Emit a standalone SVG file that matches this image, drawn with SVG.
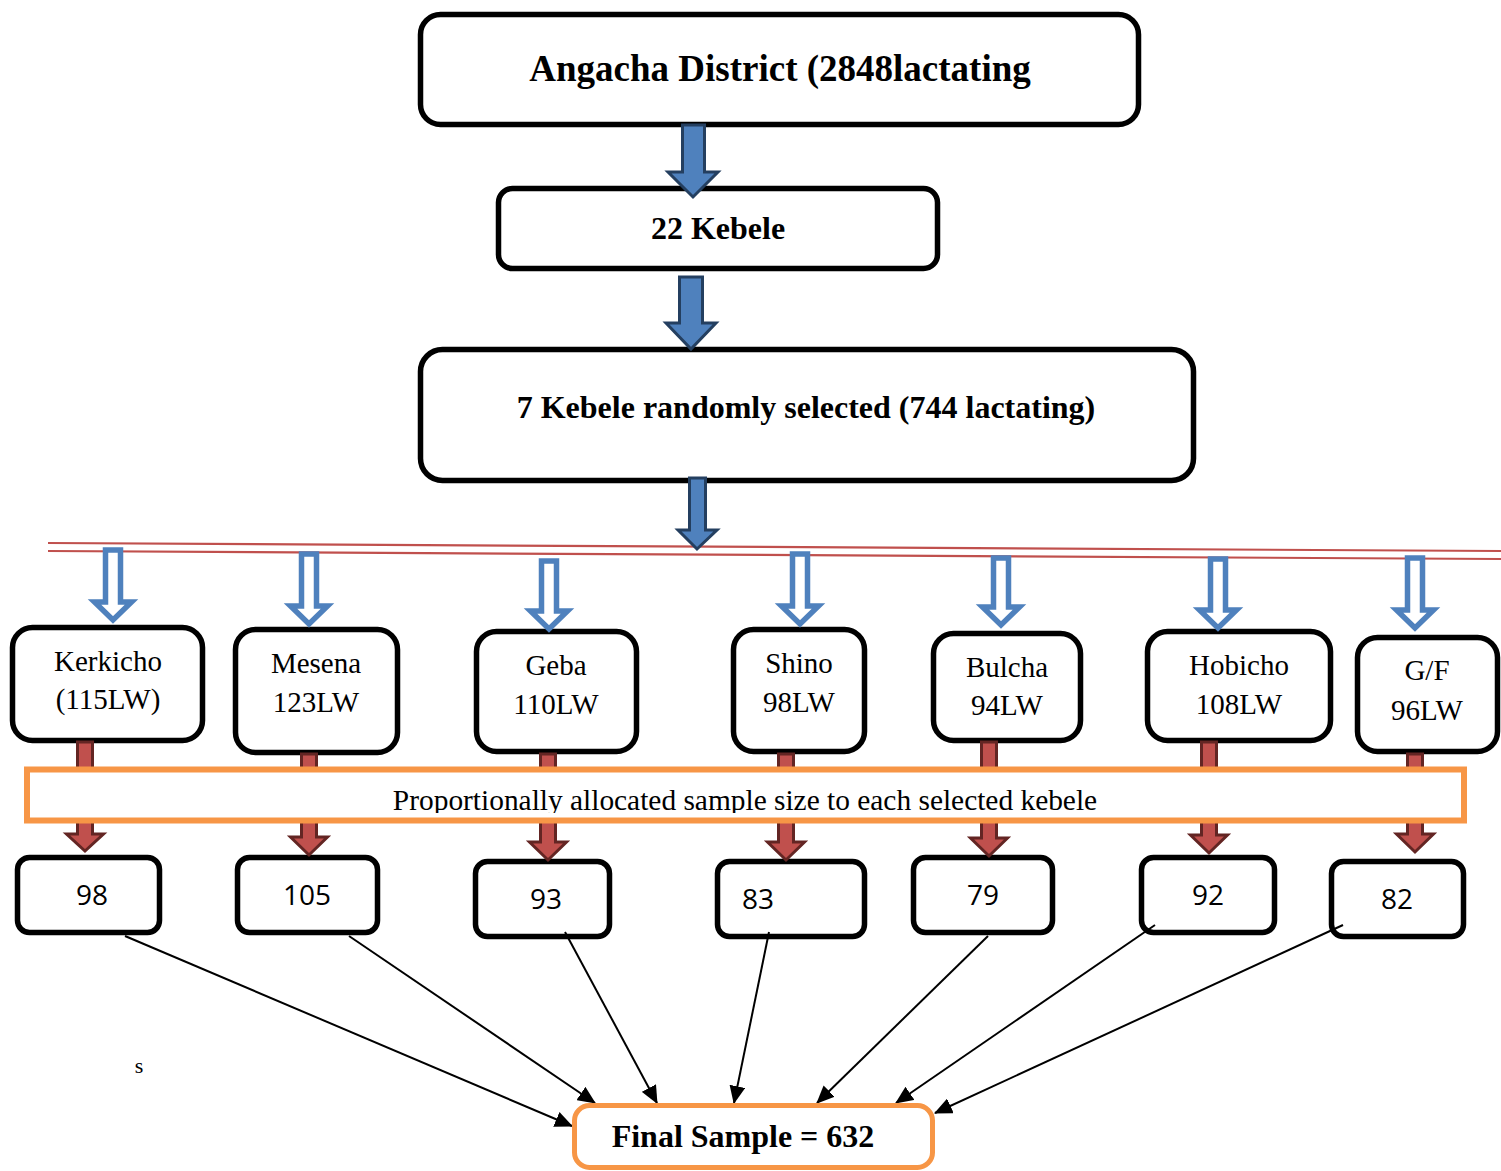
<svg xmlns="http://www.w3.org/2000/svg" width="1501" height="1171" viewBox="0 0 1501 1171">
<style>
.box{fill:#fff;stroke:#000;stroke-width:5.5}
.ttl{font-family:"Liberation Serif",serif;font-weight:bold;fill:#000;text-anchor:middle}
.kt{font-family:"Liberation Serif",serif;font-size:29px;fill:#000;text-anchor:middle}
.num{font-family:"Open Sans","Noto Sans",sans-serif;font-size:28px;fill:#000;text-anchor:middle}
.barrow{fill:#4f81bd;stroke:#243f60;stroke-width:3}
.harrow{fill:#fff;stroke:#4f81bd;stroke-width:5.5}
.rarrow{fill:#c0504d;stroke:#632523;stroke-width:3}
.rline{stroke:#c0504d;stroke-width:2.2;fill:none}
.conn{stroke:#000;stroke-width:2;fill:none;marker-end:url(#ah)}
.orange{fill:#fff;stroke:#f79646;stroke-width:6}
</style>
<defs>
<marker id="ah" markerUnits="userSpaceOnUse" markerWidth="18" markerHeight="16" refX="17" refY="8" orient="auto">
<path d="M0,0 L18,8 L0,16 Z" fill="#000"/>
</marker>
<clipPath id="oclip"><rect x="30" y="772" width="1430" height="41"/></clipPath>
</defs>
<rect width="1501" height="1171" fill="#fff"/>

<g id="node-district"><rect class="box" x="420.5" y="14.5" width="718" height="110" rx="20"/><text class="ttl" x="780" y="81" font-size="37">Angacha District (2848lactating</text></g>
<g id="node-22kebele"><rect class="box" x="498.5" y="188.5" width="439" height="80" rx="14"/><text class="ttl" x="718" y="239" font-size="32">22 Kebele</text></g>
<g id="node-7kebele"><rect class="box" x="420.5" y="349.5" width="773" height="131" rx="22"/><text class="ttl" x="806" y="418" font-size="32">7 Kebele randomly selected (744 lactating)</text></g>

<g id="node-kerkicho"><rect class="box" x="12.5" y="627.5" width="190" height="113" rx="20"/><text class="kt" x="108" y="671">Kerkicho</text><text class="kt" x="108" y="709">(115LW)</text></g>
<g id="node-mesena"><rect class="box" x="235.5" y="629.5" width="162" height="123" rx="20"/><text class="kt" x="316" y="673">Mesena</text><text class="kt" x="316" y="712">123LW</text></g>
<g id="node-geba"><rect class="box" x="476.5" y="631.5" width="160" height="120" rx="20"/><text class="kt" x="556" y="675">Geba</text><text class="kt" x="556" y="714">110LW</text></g>
<g id="node-shino"><rect class="box" x="733.5" y="629.5" width="131" height="122" rx="20"/><text class="kt" x="799" y="673">Shino</text><text class="kt" x="799" y="712">98LW</text></g>
<g id="node-bulcha"><rect class="box" x="933.5" y="633.5" width="147" height="107" rx="20"/><text class="kt" x="1007" y="677">Bulcha</text><text class="kt" x="1007" y="715">94LW</text></g>
<g id="node-hobicho"><rect class="box" x="1147.5" y="631.5" width="183" height="109" rx="20"/><text class="kt" x="1239" y="675">Hobicho</text><text class="kt" x="1239" y="714">108LW</text></g>
<g id="node-gf"><rect class="box" x="1357.5" y="637.5" width="140" height="114" rx="20"/><text class="kt" x="1427" y="680">G/F</text><text class="kt" x="1427" y="720">96LW</text></g>

<g id="node-n98"><rect class="box" x="17.5" y="857.5" width="142" height="75" rx="12"/><text class="num" x="92" y="905">98</text></g>
<g id="node-n105"><rect class="box" x="237.5" y="857.5" width="140" height="75" rx="12"/><text class="num" x="307" y="905">105</text></g>
<g id="node-n93"><rect class="box" x="475.5" y="861.5" width="134" height="75" rx="12"/><text class="num" x="546" y="909">93</text></g>
<g id="node-n83"><rect class="box" x="717.5" y="861.5" width="147" height="75" rx="12"/><text class="num" x="758" y="909">83</text></g>
<g id="node-n79"><rect class="box" x="913.5" y="857.5" width="139" height="75" rx="12"/><text class="num" x="983" y="905">79</text></g>
<g id="node-n92"><rect class="box" x="1141.5" y="857.5" width="133" height="75" rx="12"/><text class="num" x="1208" y="905">92</text></g>
<g id="node-n82"><rect class="box" x="1331.5" y="861.5" width="132" height="75" rx="12"/><text class="num" x="1397" y="909">82</text></g>

<g id="connectors">
<line class="rline" x1="48" y1="543" x2="1501" y2="551"/>
<line class="rline" x1="48" y1="551" x2="1501" y2="559"/>
<path class="barrow" d="M682.5,125 H704.5 V172 H718 L693,197 L668,172 H682.5 Z"/>
<path class="barrow" d="M679.5,277 H702.5 V323 H716 L691,349 L666,323 H679.5 Z"/>
<path class="barrow" d="M689.5,478 H705.5 V530 H717 L697,549 L678,530 H689.5 Z"/>

<path class="harrow" d="M105.5,550 H120.5 V602 H131.5 L113,620 L94.5,602 H105.5 Z"/>
<path class="harrow" d="M301.5,554 H316.5 V606 H327.5 L309,624 L290.5,606 H301.5 Z"/>
<path class="harrow" d="M541.5,561 H556.5 V611 H567.5 L549,629 L530.5,611 H541.5 Z"/>
<path class="harrow" d="M792.5,554 H807.5 V606 H818.5 L800,624 L781.5,606 H792.5 Z"/>
<path class="harrow" d="M993.5,558 H1008.5 V607 H1019.5 L1001,625 L982.5,607 H993.5 Z"/>
<path class="harrow" d="M1210.5,559 H1225.5 V610 H1236.5 L1218,628 L1199.5,610 H1210.5 Z"/>
<path class="harrow" d="M1407.5,558 H1422.5 V610 H1433.5 L1415,628 L1396.5,610 H1407.5 Z"/>

<path class="rarrow" d="M77.5,742 H92.5 V834 H103.5 L85,851 L66.5,834 H77.5 Z"/>
<path class="rarrow" d="M301.5,754 H316.5 V837 H327.5 L309,855 L290.5,837 H301.5 Z"/>
<path class="rarrow" d="M540.5,754 H555.5 V842 H566.5 L548,860 L529.5,842 H540.5 Z"/>
<path class="rarrow" d="M778.5,754 H793.5 V842 H804.5 L786,860 L767.5,842 H778.5 Z"/>
<path class="rarrow" d="M981.5,742 H996.5 V838 H1007.5 L989,856 L970.5,838 H981.5 Z"/>
<path class="rarrow" d="M1201.5,742 H1216.5 V835 H1227.5 L1209,853 L1190.5,835 H1201.5 Z"/>
<path class="rarrow" d="M1407.5,754 H1422.5 V834 H1433.5 L1415,852 L1396.5,834 H1407.5 Z"/>

<line class="conn" x1="125" y1="936" x2="572" y2="1126"/>
<line class="conn" x1="349" y1="936" x2="595" y2="1103"/>
<line class="conn" x1="565" y1="932" x2="657" y2="1103"/>
<line class="conn" x1="769" y1="932" x2="734" y2="1103"/>
<line class="conn" x1="988" y1="936" x2="817" y2="1103"/>
<line class="conn" x1="1155" y1="925" x2="896" y2="1103"/>
<line class="conn" x1="1343" y1="925" x2="935" y2="1113"/>
</g>

<g id="node-proportional"><rect class="orange" x="27" y="769.5" width="1437" height="51"/><text clip-path="url(#oclip)" x="745" y="810" font-family="Liberation Serif, serif" font-size="29.4" text-anchor="middle" fill="#000">Proportionally allocated sample size to each selected kebele</text></g>

<g id="node-final"><rect x="574.5" y="1105.5" width="358" height="62" rx="15" fill="#fff" stroke="#f79646" stroke-width="5"/><text class="ttl" x="743" y="1147" font-size="32">Final Sample = 632</text></g>

<text x="139" y="1073" font-family="Liberation Serif, serif" font-size="22" text-anchor="middle" fill="#000">s</text>
</svg>
